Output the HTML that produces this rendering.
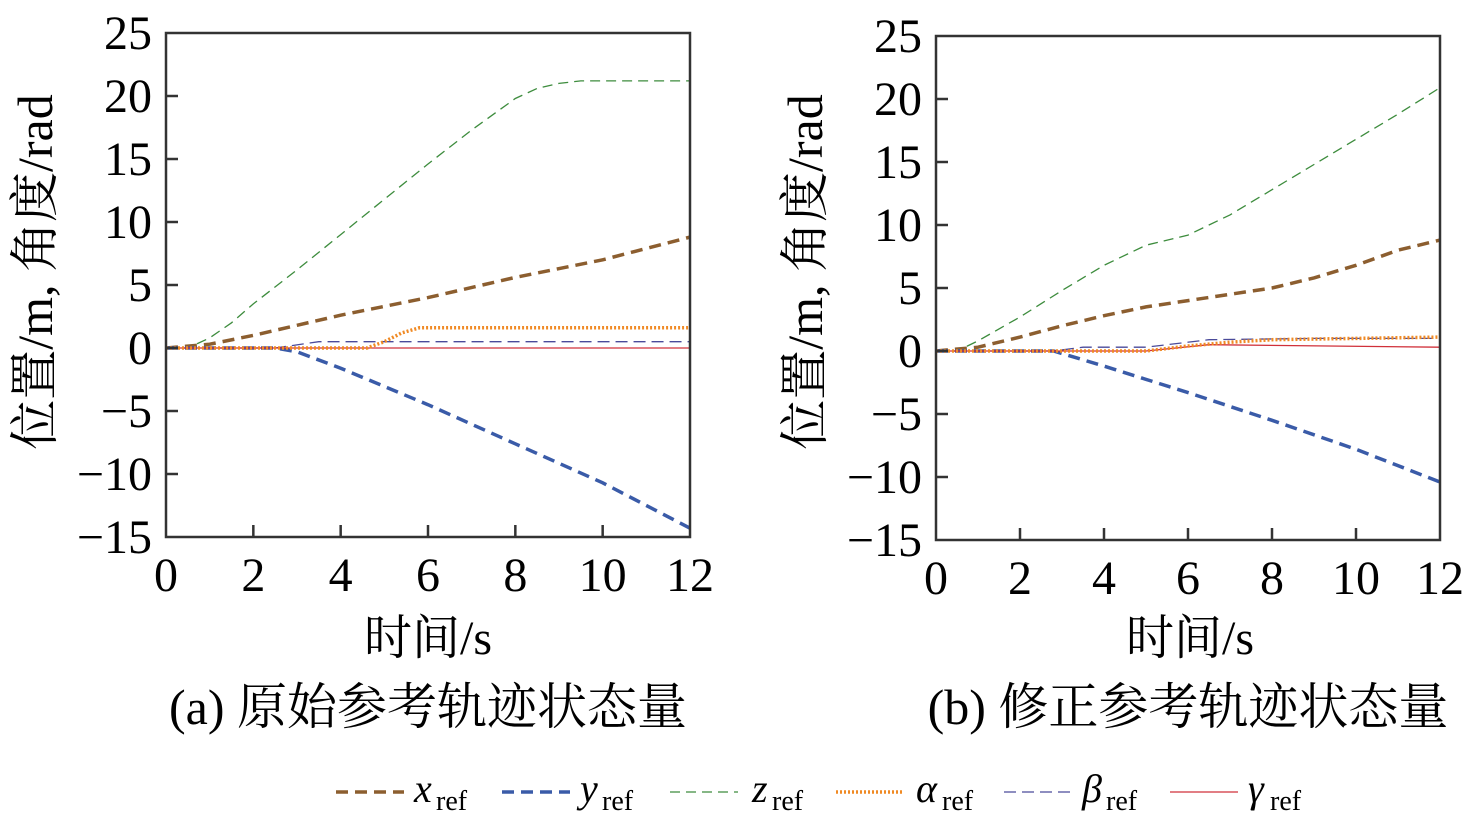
<!DOCTYPE html>
<html><head><meta charset="utf-8"><style>
html,body{margin:0;padding:0;background:#fff;}
svg text{font-family:"Liberation Serif","Noto Serif CJK SC","Noto Sans CJK SC",serif;}
</style></head><body>
<svg id="s" width="1476" height="820" viewBox="0 0 1476 820" xmlns="http://www.w3.org/2000/svg">
<g id="plots"></g>
<text x="428" y="654" font-size="48" text-anchor="middle">时间/s</text>
<text x="1190" y="654" font-size="48" text-anchor="middle">时间/s</text>
<text x="428" y="724" font-size="50" text-anchor="middle">(a) 原始参考轨迹状态量</text>
<text x="1188" y="724" font-size="50" text-anchor="middle">(b) 修正参考轨迹状态量</text>
<text transform="translate(52,272) rotate(-90)" font-size="50" text-anchor="middle">位置/m, 角度/rad</text>
<text transform="translate(822,272) rotate(-90)" font-size="50" text-anchor="middle">位置/m, 角度/rad</text>
<g font-size="40">
<line x1="336" y1="792" x2="404" y2="792" stroke="#8c5e2f" stroke-width="3.5" stroke-dasharray="12,7"/>
<text x="414" y="802" font-style="italic">x</text><text x="436" y="810" font-size="28">ref</text>
<line x1="502" y1="792" x2="570" y2="792" stroke="#3a5ba8" stroke-width="3.5" stroke-dasharray="12,7"/>
<text x="580" y="802" font-style="italic">y</text><text x="602" y="810" font-size="28">ref</text>
<line x1="670" y1="792" x2="738" y2="792" stroke="#3d8c3d" stroke-width="1.3" stroke-dasharray="10,6"/>
<text x="752" y="802" font-style="italic">z</text><text x="772" y="810" font-size="28">ref</text>
<line x1="836" y1="792" x2="904" y2="792" stroke="#f08a24" stroke-width="3.5" stroke-dasharray="2,2"/>
<text x="916" y="802" font-style="italic">α</text><text x="942" y="810" font-size="28">ref</text>
<line x1="1004" y1="792" x2="1072" y2="792" stroke="#4a4a9a" stroke-width="1.3" stroke-dasharray="12,6"/>
<text x="1082" y="802" font-style="italic">β</text><text x="1106" y="810" font-size="28">ref</text>
<line x1="1170" y1="792" x2="1238" y2="792" stroke="#d0303a" stroke-width="1.3"/>
<text x="1248" y="802" font-style="italic">γ</text><text x="1270" y="810" font-size="28">ref</text>
</g>
</svg>
<script>
const NS="http://www.w3.org/2000/svg",g=document.getElementById("plots");
function el(t,a,txt){const e=document.createElementNS(NS,t);for(const k in a)e.setAttribute(k,a[k]);if(txt!==undefined)e.textContent=txt;g.appendChild(e);return e;}
const styles={
x:{stroke:"#8c5e2f",w:3.5,d:"12,7"},
y:{stroke:"#3a5ba8",w:3.5,d:"12,7"},
z:{stroke:"#3d8c3d",w:1.3,d:"10,6"},
b:{stroke:"#4a4a9a",w:1.3,d:"12,6"},
g:{stroke:"#d0303a",w:1.3,d:""},
a:{stroke:"#f08a24",w:3.5,d:"2,2"}};
function plot(L,R,T,B,data){
 const sx=(R-L)/12,sy=(B-T)/40,y0=T+25*sy;
 const X=v=>L+v*sx,Y=v=>y0-v*sy;
 for(const k of ["z","x","y","b","g","a"]){
  const s=styles[k];
  el("polyline",{points:data[k].map(p=>X(p[0]).toFixed(1)+","+Y(p[1]).toFixed(1)).join(" "),fill:"none",stroke:s.stroke,"stroke-width":s.w,"stroke-dasharray":s.d});
 }
 el("rect",{x:L,y:T,width:R-L,height:B-T,fill:"none",stroke:"#333","stroke-width":2.5});
 for(let v=-15;v<=25;v+=5){
  if(v>-15&&v<25)el("line",{x1:L,y1:Y(v),x2:L+12,y2:Y(v),stroke:"#333","stroke-width":2.5});
  el("text",{x:L-14,y:Y(v)+16,"font-size":48,"text-anchor":"end"},v<0?"−"+(-v):""+v);
 }
 for(let v=0;v<=12;v+=2){
  if(v>0&&v<12)el("line",{x1:X(v),y1:B,x2:X(v),y2:B-12,stroke:"#333","stroke-width":2.5});
  el("text",{x:X(v),y:B+54,"font-size":48,"text-anchor":"middle"},""+v);
 }
}
plot(166,690,33,537,{
 z:[[0,0],[0.5,0],[1,0.8],[1.5,2],[2,3.5],[3,6.2],[4,9],[5,11.8],[6,14.6],[7,17.3],[8,19.8],[8.5,20.6],[9,21],[9.5,21.2],[12,21.2]],
 x:[[0,0],[1,0.3],[2,1],[3,1.8],[4,2.6],[6,4],[8,5.6],[10,7],[12,8.8]],
 y:[[0,0],[2.5,0],[3,-0.3],[4,-1.6],[6,-4.5],[8,-7.6],[10,-10.7],[12,-14.3]],
 a:[[0,0],[4.6,0],[5,0.5],[5.4,1.2],[5.8,1.6],[12,1.6]],
 b:[[0,0],[2.5,0],[3.5,0.5],[12,0.5]],
 g:[[0,0],[12,0]]});
plot(936,1440,36,540,{
 z:[[0,0],[0.5,0],[1,0.8],[2,2.7],[3,4.8],[4,6.8],[5,8.4],[6,9.2],[7,10.8],[8,12.8],[9,14.8],[10,16.8],[11,18.8],[12,20.9]],
 x:[[0,0],[1,0.3],[2,1.1],[3,2],[4,2.8],[5,3.5],[6,4],[7,4.5],[8,5],[9,5.8],[10,6.8],[11,8],[12,8.8]],
 y:[[0,0],[2.8,0],[4,-1.2],[6,-3.3],[8,-5.5],[10,-7.8],[12,-10.4]],
 a:[[0,0],[5,0],[6,0.4],[7,0.7],[8,0.9],[10,1.0],[12,1.1]],
 b:[[0,0],[2.8,0],[3.5,0.3],[5,0.3],[6.5,0.9],[9,1],[12,1.0]],
 g:[[0,0],[5,0],[6.5,0.5],[12,0.3]]});
</script>
</body></html>
